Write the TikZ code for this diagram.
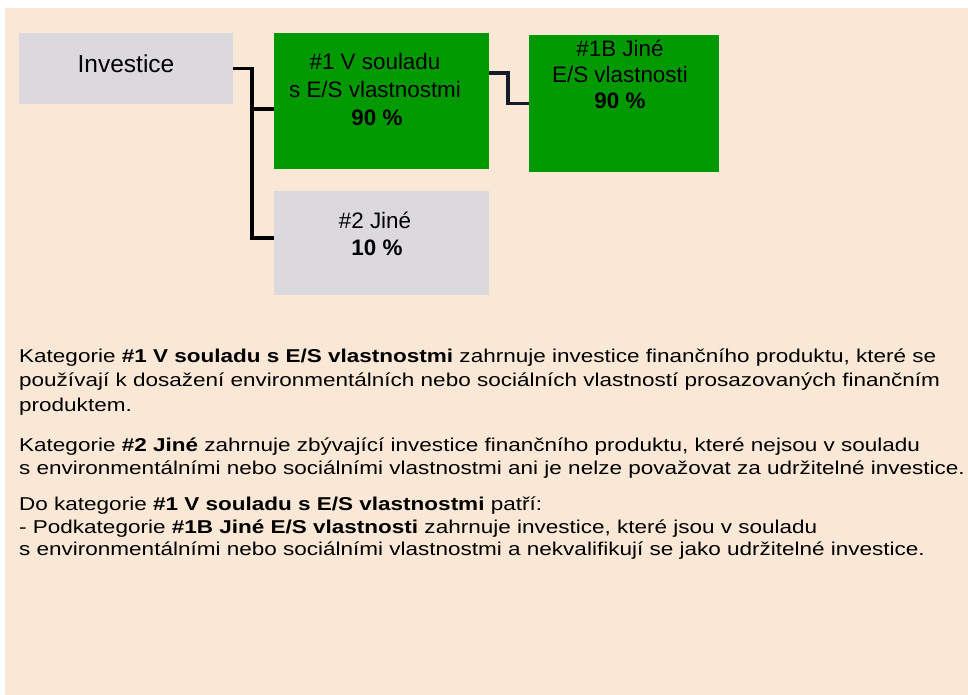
\documentclass[tikz,border=0pt]{standalone}
\usepackage{fontspec}
\setmainfont{Liberation Sans}
\newfontfamily\bodyfont[FakeStretch=1.21]{Liberation Sans}
\definecolor{peach}{HTML}{FAE8D7}
\definecolor{boxgray}{HTML}{DBD9DD}
\definecolor{boxgreen}{HTML}{009900}
\definecolor{navy}{HTML}{141C2C}
\begin{document}
\begin{tikzpicture}[x=1pt,y=-1pt,
  graybox/.style={fill=boxgray, draw=none, inner sep=0pt},
  greenbox/.style={fill=boxgreen, draw=none, inner sep=0pt},
  boxtxt/.style={anchor=base, inner sep=0pt, font=\fontsize{22.4}{27}\selectfont},
  bigtxt/.style={anchor=base, inner sep=0pt, font=\fontsize{24.5}{28}\selectfont},
  bodyline/.style={anchor=base west, inner sep=0pt, font=\bodyfont\fontsize{18.6}{24}\selectfont},
  conn/.style={line width=3.5pt, draw=black},
  connnavy/.style={line width=3.5pt, draw=navy}]
\useasboundingbox (0,0) rectangle (968,695);
\fill[peach] (5,8) rectangle (968,695);

% boxes
\node[graybox, minimum width=214pt, minimum height=71pt] (inv) at (126,68.5) {};
\node[greenbox, minimum width=215pt, minimum height=136pt] (c1) at (381.5,101) {};
\node[graybox, minimum width=215pt, minimum height=104pt] (c2) at (381.5,243) {};
\node[greenbox, minimum width=190pt, minimum height=137pt] (c1b) at (624,103.5) {};

% connector end points
\coordinate (c1in) at ([yshift=-8pt]c1.west);
\coordinate (c2in) at ([yshift=5pt]c2.west);
\coordinate (c1out) at ([yshift=28pt]c1.east);

% connectors
\draw[conn] (inv.east) -- ++(19,0) coordinate (jn) |- (c2in);
\draw[conn] (jn |- c1in) -- (c1in);
\draw[connnavy] (c1out) -- ++(19,0) |- (c1b.west);

% box texts
\node[bigtxt] (invt) at (126,73) {Investice};
\node[boxtxt] (t1a) at (375,70) {\#1 V souladu};
\node[boxtxt] (t1b) at (375,98) {s E/S vlastnostmi};
\node[boxtxt] (t1c) at (377,126) {\textbf{90 \%}};
\node[boxtxt] (t2a) at (375,228) {\#2 Jiné};
\node[boxtxt] (t2b) at (377,255) {\textbf{10 \%}};
\node[boxtxt] (t3a) at (620,57) {\#1B Jiné};
\node[boxtxt] (t3b) at (620,83) {E/S vlastnosti};
\node[boxtxt] (t3c) at (620,109) {\textbf{90 \%}};

% body text
\node[bodyline] (l1) at (19,362) {Kategorie \textbf{\#1 V souladu s E/S vlastnostmi} zahrnuje investice finančního produktu, které se};
\node[bodyline] (l2) at (19,386.5) {používají k dosažení environmentálních nebo sociálních vlastností prosazovaných finančním};
\node[bodyline] (l3) at (19,411) {produktem.};
\node[bodyline] (l4) at (19,451) {Kategorie \textbf{\#2 Jiné} zahrnuje zbývající investice finančního produktu, které nejsou v souladu};
\node[bodyline] (l5) at (19,474.5) {s environmentálními nebo sociálními vlastnostmi ani je nelze považovat za udržitelné investice.};
\node[bodyline] (l6) at (19,510.5) {Do kategorie \textbf{\#1 V souladu s E/S vlastnostmi} patří:};
\node[bodyline] (l7) at (19,533) {- Podkategorie \textbf{\#1B Jiné E/S vlastnosti} zahrnuje investice, které jsou v souladu};
\node[bodyline] (l8) at (19,555.5) {s environmentálními nebo sociálními vlastnostmi a nekvalifikují se jako udržitelné investice.};
\end{tikzpicture}
\end{document}
